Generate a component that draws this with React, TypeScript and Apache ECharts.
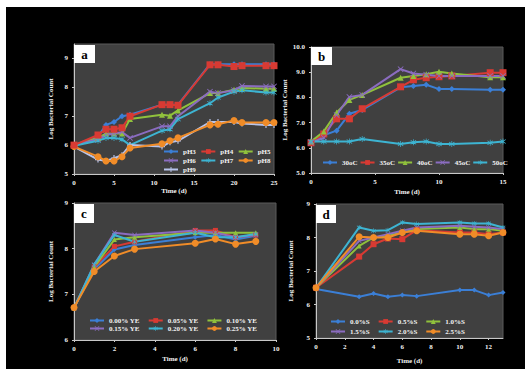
import React, { useEffect, useRef } from "react";
import * as echarts from "echarts";

// ---------- Panel a (pH) ----------
const daysA = [0, 3, 4, 5, 6, 7, 11, 12, 13, 17, 18, 20, 21, 24, 25];
const pH3 = [6.0, 6.3, 6.7, 6.8, 7.0, 7.05, 7.4, 7.4, 7.4, 8.8, 8.8, 8.8, 8.8, 8.8, 8.8];
const pH4 = [6.0, 6.35, 6.55, 6.55, 6.6, 7.0, 7.4, 7.4, 7.38, 8.78, 8.78, 8.72, 8.75, 8.75, 8.75];
const pH5 = [6.0, 6.25, 6.4, 6.4, 6.4, 6.9, 7.05, 7.02, 7.2, 7.8, 7.8, 7.92, 7.98, 7.95, 7.95];
const pH6 = [6.0, 6.2, 6.35, 6.4, 6.45, 6.25, 6.65, 6.65, 7.0, 7.85, 7.8, 7.9, 8.05, 8.03, 8.03];
const pH7 = [5.98, 6.15, 6.25, 6.25, 6.2, 6.0, 6.5, 6.55, 6.9, 7.45, 7.65, 7.85, 7.9, 7.82, 7.82];
const pH8 = [5.95, 5.6, 5.45, 5.45, 5.6, 5.9, 6.05, 6.15, 6.25, 6.7, 6.72, 6.85, 6.78, 6.78, 6.78];
const pH9 = [5.95, 5.5, 5.45, 5.55, 5.65, 6.0, 5.95, 6.1, 6.15, 6.8, 6.8, 6.8, 6.75, 6.7, 6.7];
const namesA = ["pH3", "pH4", "pH5", "pH6", "pH7", "pH8", "pH9"];

// ---------- Panel b (temperature) ----------
const daysB = [0, 1, 2, 3, 4, 7, 8, 9, 10, 11, 14, 15];
const t30 = [6.2, 6.5, 6.68, 7.35, 7.5, 8.4, 8.45, 8.5, 8.33, 8.33, 8.3, 8.3];
const t35 = [6.2, 6.55, 7.15, 7.15, 7.55, 8.42, 8.7, 8.78, 8.82, 8.85, 8.98, 8.98];
const t40 = [6.25, 6.65, 7.4, 7.9, 8.1, 8.78, 8.85, 8.92, 9.02, 8.95, 8.8, 8.8];
const t45 = [6.2, 6.4, 7.3, 8.02, 8.1, 9.12, 8.95, 8.9, 8.85, 8.85, 8.85, 8.85];
const t50 = [6.25, 6.25, 6.25, 6.25, 6.35, 6.15, 6.22, 6.25, 6.15, 6.15, 6.2, 6.25];
const namesB = ["30oC", "35oC", "40oC", "45oC", "50oC"];

// ---------- Panel c (yeast extract) ----------
const daysC = [0, 1, 2, 3, 6, 7, 8, 9];
const ye000 = [6.7, 7.55, 7.98, 8.08, 8.25, 8.3, 8.2, 8.28];
const ye005 = [6.7, 7.6, 8.05, 8.15, 8.4, 8.4, 8.25, 8.3];
const ye010 = [6.7, 7.6, 8.2, 8.25, 8.35, 8.35, 8.35, 8.35];
const ye015 = [6.7, 7.65, 8.35, 8.3, 8.4, 8.35, 8.25, 8.3];
const ye020 = [6.7, 7.65, 8.3, 8.15, 8.35, 8.25, 8.25, 8.32];
const ye025 = [6.71, 7.5, 7.84, 7.99, 8.12, 8.21, 8.1, 8.16];
const namesC = ["0.00% YE", "0.05% YE", "0.10% YE", "0.15% YE", "0.20% YE", "0.25% YE"];

// ---------- Panel d (salt) ----------
const daysD = [0, 3, 4, 5, 6, 7, 10, 11, 12, 13];
const s00 = [6.46, 6.23, 6.33, 6.23, 6.28, 6.25, 6.43, 6.43, 6.28, 6.36];
const s05 = [6.5, 7.43, 7.8, 7.97, 7.95, 8.22, 8.15, 8.15, 8.1, 8.15];
const s10 = [6.5, 7.75, 8.0, 8.05, 8.15, 8.25, 8.3, 8.25, 8.25, 8.2];
const s15 = [6.5, 7.9, 8.0, 8.1, 8.2, 8.3, 8.35, 8.32, 8.3, 8.25];
const s20 = [6.5, 8.3, 8.2, 8.22, 8.45, 8.4, 8.45, 8.42, 8.42, 8.3];
const s25 = [6.5, 8.02, 8.0, 8.0, 8.15, 8.2, 8.1, 8.1, 8.05, 8.15];
const namesD = ["0.0%S", "0.5%S", "1.0%S", "1.5%S", "2.0%S", "2.5%S"];

const COL = {
  blue: "#3b7fd6",
  red: "#d83a33",
  green: "#90c13c",
  purple: "#8b6cc0",
  cyan: "#3db4d2",
  orange: "#f08c28",
  lav: "#b8c4ec",
};
const SYM_X = "path://M1,0L5,4L9,0L10,1L6,5L10,9L9,10L5,6L1,10L0,9L4,5L0,1Z";
const SYM_STAR = "path://M1,0L5,4L9,0L10,1L6,5L10,9L9,10L5,6L1,10L0,9L4,5L0,1Z M4.4,-1.5H5.6V11.5H4.4Z";
const SYM_PLUS = "path://M4,0H6V4H10V6H6V10H4V6H0V4H4Z";

const FONT = "Liberation Serif";
const TXT = "#f2f2f2";

function mk(name: string, days: number[], vals: number[], idx: number, color: string, symbol: string, size: number) {
  return {
    type: "line",
    name,
    xAxisIndex: idx,
    yAxisIndex: idx,
    data: days.map((d, i) => [d, vals[i]]),
    symbol,
    symbolSize: size,
    showSymbol: true,
    lineStyle: { width: 2, color },
    itemStyle: { color },
    emphasis: { disabled: true },
  };
}

function axisBase() {
  return {
    type: "value",
    axisLine: { show: true, onZero: false, lineStyle: { color: "#c8c8c8", width: 1 } },
    axisTick: { show: true, length: 2, lineStyle: { color: "#c8c8c8" } },
    splitLine: { show: false },
    axisLabel: { color: TXT, fontSize: 7, fontWeight: "bold", fontFamily: FONT, margin: 5 },
    nameTextStyle: { color: TXT, fontSize: 7, fontWeight: "bold", fontFamily: FONT },
  };
}

function xAx(idx: number, max: number, interval: number, gap: number, custom?: number[]) {
  const a: any = axisBase();
  a.gridIndex = idx;
  a.min = 0;
  a.max = max;
  a.interval = interval;
  a.name = "Time (d)";
  a.nameLocation = "middle";
  a.nameGap = gap;
  if (custom) {
    a.axisLabel.customValues = custom;
    a.axisTick.customValues = custom;
    a.axisLabel.formatter = (v: number) => (custom.indexOf(v) >= 0 ? String(v) : "");
  }
  return a;
}

function yAx(idx: number, min: number, max: number, gap: number, fmt: (v: number) => string, custom?: number[]) {
  const a: any = axisBase();
  a.gridIndex = idx;
  a.min = min;
  a.max = max;
  a.interval = 1;
  a.name = "Log Bacterial Count";
  a.nameLocation = "middle";
  a.nameRotate = 90;
  a.nameGap = gap;
  a.axisLabel.margin = 6;
  a.axisLabel.formatter = fmt;
  if (custom) {
    a.axisLabel.customValues = custom;
    a.axisTick.customValues = custom;
  }
  return a;
}

function legendRow(names: string[], left: number, top: number, textW: number, gap: number) {
  return {
    data: names,
    left,
    top,
    orient: "horizontal",
    padding: 0,
    itemGap: gap,
    itemWidth: 14,
    itemHeight: 6,
    selectedMode: false,
    textStyle: { color: TXT, fontSize: 7, fontWeight: "bold", fontFamily: FONT, width: textW, padding: 0 },
  };
}

function letterBox(letter: string, x: number, y: number, w: number, h: number) {
  return {
    type: "group",
    z: 100,
    children: [
      { type: "rect", shape: { x, y, width: w, height: h }, style: { fill: "#ffffff" }, z: 100 },
      {
        type: "text",
        z: 101,
        style: {
          text: letter,
          x: x + w / 2,
          y: y + h / 2,
          fill: "#000",
          font: `bold 13px ${FONT}`,
          textAlign: "center",
          textVerticalAlign: "middle",
        },
      },
    ],
  };
}

const gridStyle = { show: true, backgroundColor: "#404040", borderColor: "#5a5a5a", borderWidth: 1 };

const option: any = {
  animation: false,
  grid: [
    { left: 74, top: 44, width: 200, height: 130, ...gridStyle },
    { left: 311, top: 47, width: 192, height: 126, ...gridStyle },
    { left: 74, top: 203, width: 202, height: 137, ...gridStyle },
    { left: 316, top: 204, width: 187, height: 134, ...gridStyle },
  ],
  xAxis: [
    xAx(0, 25, 5, 13),
    xAx(1, 15, 5, 15),
    xAx(2, 10, 2, 15),
    xAx(3, 13, 2, 19, [0, 2, 4, 6, 8, 10, 12]),
  ],
  yAxis: [
    yAx(0, 5, 9.5, 20, (v: number) => (Number.isInteger(v) ? String(v) : ""), [5, 6, 7, 8, 9]),
    yAx(1, 5, 10, 19, (v: number) => v.toFixed(1)),
    yAx(2, 6, 9, 20, (v: number) => String(v)),
    yAx(3, 5, 9, 22, (v: number) => String(v)),
  ],
  legend: [
    legendRow(namesA.slice(0, 3), 163, 148, 14, 4.5),
    legendRow(namesA.slice(3, 6), 163, 157, 14, 4.5),
    legendRow(namesA.slice(6), 163, 166, 14, 4.5),
    legendRow(namesB, 322, 159, 16, 2),
    legendRow(namesC.slice(0, 3), 89, 317, 40, 8),
    legendRow(namesC.slice(3), 89, 325, 40, 8),
    legendRow(namesD.slice(0, 3), 330, 318, 30, 8),
    legendRow(namesD.slice(3), 330, 328, 30, 8),
  ],
  graphic: [
    letterBox("a", 74, 45, 21, 18),
    letterBox("b", 311, 47, 21, 18),
    letterBox("c", 74, 204, 20, 19),
    letterBox("d", 316, 205, 20, 18),
  ],
  series: [
    mk(namesA[0], daysA, pH3, 0, COL.blue, "diamond", 6),
    mk(namesA[2], daysA, pH5, 0, COL.green, "triangle", 6),
    mk(namesA[3], daysA, pH6, 0, COL.purple, SYM_X, 6),
    mk(namesA[4], daysA, pH7, 0, COL.cyan, SYM_STAR, 6),
    mk(namesA[6], daysA, pH9, 0, COL.lav, SYM_PLUS, 6),
    mk(namesA[5], daysA, pH8, 0, COL.orange, "circle", 7),
    mk(namesA[1], daysA, pH4, 0, COL.red, "rect", 7),

    mk(namesB[0], daysB, t30, 1, COL.blue, "diamond", 6),
    mk(namesB[1], daysB, t35, 1, COL.red, "rect", 7),
    mk(namesB[2], daysB, t40, 1, COL.green, "triangle", 6),
    mk(namesB[3], daysB, t45, 1, COL.purple, SYM_X, 6),
    mk(namesB[4], daysB, t50, 1, COL.cyan, SYM_STAR, 6),

    mk(namesC[0], daysC, ye000, 2, COL.blue, "diamond", 5),
    mk(namesC[1], daysC, ye005, 2, COL.red, "rect", 5),
    mk(namesC[2], daysC, ye010, 2, COL.green, "triangle", 5),
    mk(namesC[3], daysC, ye015, 2, COL.purple, SYM_X, 5),
    mk(namesC[4], daysC, ye020, 2, COL.cyan, SYM_STAR, 5),
    mk(namesC[5], daysC, ye025, 2, COL.orange, "circle", 7),

    mk(namesD[0], daysD, s00, 3, COL.blue, "diamond", 5),
    mk(namesD[1], daysD, s05, 3, COL.red, "rect", 6),
    mk(namesD[2], daysD, s10, 3, COL.green, "triangle", 5),
    mk(namesD[3], daysD, s15, 3, COL.purple, SYM_X, 5),
    mk(namesD[4], daysD, s20, 3, COL.cyan, SYM_STAR, 5),
    mk(namesD[5], daysD, s25, 3, COL.orange, "circle", 7),
  ],
};

export default function App() {
  const ref = useRef<HTMLDivElement>(null);
  useEffect(() => {
    const chart = echarts.init(ref.current as HTMLDivElement, null, { renderer: "svg" });
    chart.setOption(option);
    return () => chart.dispose();
  }, []);
  return (
    <div style={{ position: "absolute", left: 0, top: 0, width: 525, height: 371, background: "#fff" }}>
      <div style={{ position: "absolute", left: 6, top: 7, width: 519, height: 362, background: "#000" }} />
      <div ref={ref} style={{ position: "absolute", left: 0, top: 0, width: 525, height: 371 }} />
    </div>
  );
}
